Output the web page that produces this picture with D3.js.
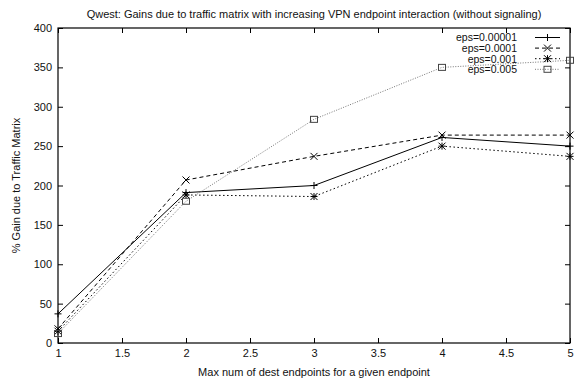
<!DOCTYPE html>
<html>
<head>
<meta charset="utf-8">
<script src="https://cdn.jsdelivr.net/npm/d3@7"></script>
<style>
  html, body { margin: 0; padding: 0; background: #fff; }
  svg text { font-family: "Liberation Sans", Arial, Helvetica, sans-serif; }
</style>
</head>
<body>
<svg id="chart" width="577" height="382"></svg>
<script>
// Max destination endpoints per endpoint (x) and % gain for each eps setting
const xValues = [1, 2, 3, 4, 5];
const seriesNames = ["eps=0.00001", "eps=0.0001", "eps=0.001", "eps=0.005"];
const gainEps00001 = [37, 191, 200, 261, 250];
const gainEps0001  = [18, 207, 237, 264, 264];
const gainEps001   = [15, 188, 186, 250, 237];
const gainEps005   = [12, 180, 284, 350, 359];
const xTicks = [1, 1.5, 2, 2.5, 3, 3.5, 4, 4.5, 5];
const yTicks = [0, 50, 100, 150, 200, 250, 300, 350, 400];

const titleText = "Qwest: Gains due to traffic matrix with increasing VPN endpoint interaction (without signaling)";
const xLabel = "Max num of dest endpoints for a given endpoint";
const yLabel = "% Gain due to Traffic Matrix";

const series = [
  { name: seriesNames[0], values: gainEps00001, color: "#000", dash: null,      marker: "plus" },
  { name: seriesNames[1], values: gainEps0001,  color: "#000", dash: "4,3",     marker: "cross" },
  { name: seriesNames[2], values: gainEps001,   color: "#000", dash: "1.5,2.5", marker: "star" },
  { name: seriesNames[3], values: gainEps005,   color: "#777", dash: "1,1.5",   marker: "square" }
];

const svg = d3.select("#chart");
const plotLeft = 58, plotRight = 570, plotTop = 28, plotBottom = 343;

const x = d3.scaleLinear().domain([1, 5]).range([plotLeft, plotRight]);
const y = d3.scaleLinear().domain([0, 400]).range([plotBottom, plotTop]);

const fontSize = 11;
const tickLen = 5;

// Title
svg.append("text")
  .attr("x", (plotLeft + plotRight) / 2).attr("y", 18)
  .attr("text-anchor", "middle").attr("font-size", fontSize)
  .attr("fill", "#111")
  .text(titleText);

// Axes with inward ticks, mirrored on top and right
const xBottom = d3.axisBottom(x).tickValues(xTicks).tickSizeInner(-tickLen).tickSizeOuter(0)
  .tickFormat(d3.format("~g")).tickPadding(6);
const xTop = d3.axisTop(x).tickValues(xTicks).tickSizeInner(-tickLen).tickSizeOuter(0).tickFormat("");
const yLeft = d3.axisLeft(y).tickValues(yTicks).tickSizeInner(-tickLen).tickSizeOuter(0).tickPadding(6);
const yRight = d3.axisRight(y).tickValues(yTicks).tickSizeInner(-tickLen).tickSizeOuter(0).tickFormat("");

function styleAxis(g) {
  g.select(".domain").remove();
  g.selectAll("line").attr("stroke", "#000");
  g.selectAll("text").attr("font-size", fontSize).attr("fill", "#111")
    .attr("font-family", "'Liberation Sans', Arial, Helvetica, sans-serif");
}

svg.append("g").attr("transform", `translate(0,${plotBottom})`).call(xBottom).call(styleAxis);
svg.append("g").attr("transform", `translate(0,${plotTop})`).call(xTop).call(styleAxis);
svg.append("g").attr("transform", `translate(${plotLeft},0)`).call(yLeft).call(styleAxis);
svg.append("g").attr("transform", `translate(${plotRight},0)`).call(yRight).call(styleAxis);

// Plot border
svg.append("rect")
  .attr("x", plotLeft).attr("y", plotTop)
  .attr("width", plotRight - plotLeft).attr("height", plotBottom - plotTop)
  .attr("fill", "none").attr("stroke", "#000").attr("stroke-width", 1.2);

// Axis titles
svg.append("text")
  .attr("x", (plotLeft + plotRight) / 2).attr("y", 376)
  .attr("text-anchor", "middle").attr("font-size", fontSize).attr("fill", "#111")
  .text(xLabel);
svg.append("text")
  .attr("transform", `translate(20,${(plotTop + plotBottom) / 2}) rotate(-90)`)
  .attr("text-anchor", "middle").attr("font-size", fontSize).attr("fill", "#111")
  .text(yLabel);

// Point markers in the gnuplot style
function drawMarker(g, kind, cx, cy, color) {
  const s = 3.5;
  const m = g.append("g").attr("stroke", color).attr("stroke-width", 1).attr("fill", "none");
  if (kind === "plus" || kind === "star") {
    m.append("line").attr("x1", cx - s).attr("x2", cx + s).attr("y1", cy).attr("y2", cy);
    m.append("line").attr("x1", cx).attr("x2", cx).attr("y1", cy - s).attr("y2", cy + s);
  }
  if (kind === "cross" || kind === "star") {
    m.append("line").attr("x1", cx - s).attr("x2", cx + s).attr("y1", cy - s).attr("y2", cy + s);
    m.append("line").attr("x1", cx - s).attr("x2", cx + s).attr("y1", cy + s).attr("y2", cy - s);
  }
  if (kind === "square") {
    m.append("rect").attr("x", cx - 3.5).attr("y", cy - 3).attr("width", 7).attr("height", 6)
      .attr("stroke", "#444");
  }
}

const line = d3.line().x((d, i) => x(xValues[i])).y(d => y(d));
const plotG = svg.append("g");

series.forEach(s => {
  plotG.append("path")
    .datum(s.values)
    .attr("d", line)
    .attr("fill", "none")
    .attr("stroke", s.color)
    .attr("stroke-width", 1)
    .attr("stroke-dasharray", s.dash);
  s.values.forEach((v, i) => drawMarker(plotG, s.marker, x(xValues[i]), y(v), s.color));
});

// Legend, top right inside the plot (tight gnuplot-style rows)
const legG = svg.append("g");
const legTextX = 517, legLineX1 = 535, legLineX2 = 560;
const legFont = 10.5;
series.forEach((s, i) => {
  const ly = 37.5 + i * 10.6;
  legG.append("text")
    .attr("x", legTextX).attr("y", ly + 3.8)
    .attr("text-anchor", "end").attr("font-size", legFont).attr("fill", "#111")
    .text(s.name);
  legG.append("line")
    .attr("x1", legLineX1).attr("x2", legLineX2).attr("y1", ly).attr("y2", ly)
    .attr("stroke", s.color).attr("stroke-width", 1)
    .attr("stroke-dasharray", s.dash);
  drawMarker(legG, s.marker, (legLineX1 + legLineX2) / 2, ly, s.color);
});
</script>
</body>
</html>
